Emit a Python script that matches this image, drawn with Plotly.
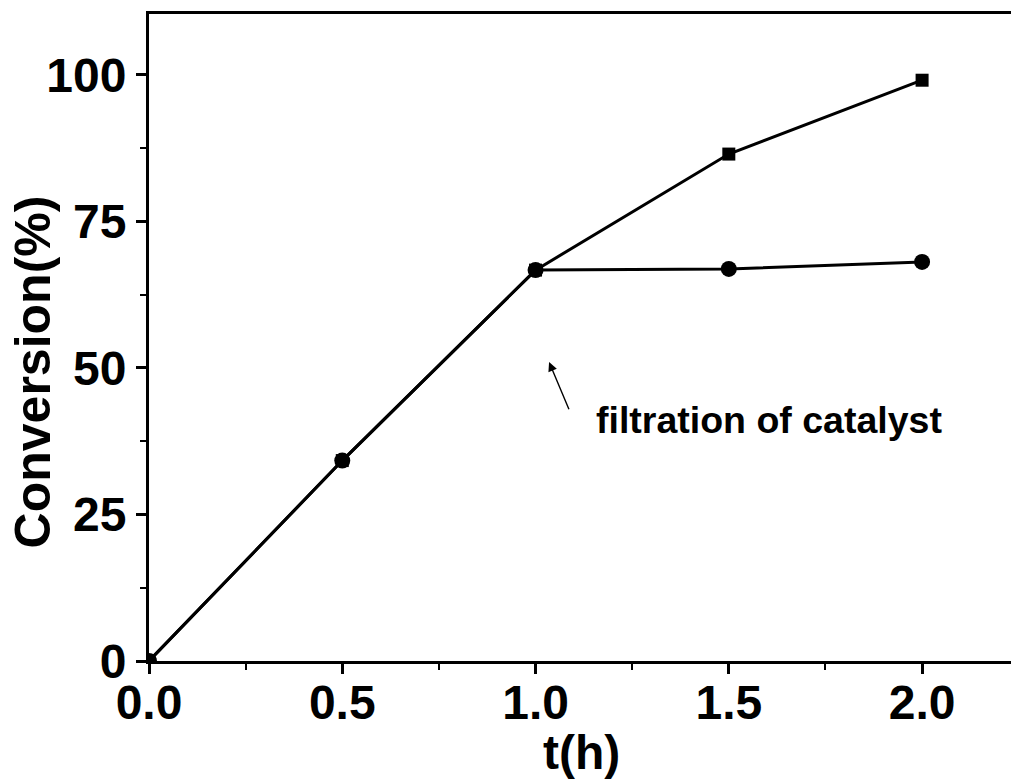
import plotly.graph_objects as go

# Reaction time (h) and conversion (%) with / without catalyst filtration
t_hours = [0.0, 0.5, 1.0, 1.5, 2.0]
conv_catalyst = [0.0, 34.2, 66.7, 86.5, 99.1]
conv_filtered = [0.0, 34.2, 66.7, 66.9, 68.1]

x_ticks = [0.0, 0.5, 1.0, 1.5, 2.0]
x_tick_text = ["0.0", "0.5", "1.0", "1.5", "2.0"]
y_ticks = [0, 25, 50, 75, 100]

FONT = "Liberation Sans, Arial, sans-serif"

fig = go.Figure()
fig.add_trace(go.Scatter(
    x=t_hours, y=conv_catalyst, mode="lines+markers",
    line=dict(color="black", width=3),
    marker=dict(symbol="square", size=13, color="black"),
    showlegend=False,
))
fig.add_trace(go.Scatter(
    x=t_hours, y=conv_filtered, mode="lines+markers",
    line=dict(color="black", width=3),
    marker=dict(symbol="circle", size=16, color="black"),
    showlegend=False,
))

# arrow pointing at the filtration moment
fig.add_annotation(
    x=1.035, y=51.0, ax=1.088, ay=42.7,
    xref="x", yref="y", axref="x", ayref="y",
    text="", showarrow=True, arrowhead=2, arrowsize=1.3,
    arrowwidth=1.4, arrowcolor="black",
)
fig.add_annotation(
    x=1.603, y=41.2, xref="x", yref="y",
    xanchor="center", yanchor="middle",
    text="<b>filtration of catalyst</b>", showarrow=False,
    font=dict(family=FONT, size=37.5, color="black"),
)

# axis titles
fig.add_annotation(
    x=0.502, y=-0.141, xref="paper", yref="paper",
    xanchor="center", yanchor="middle",
    text="<b>t(h)</b>", showarrow=False,
    font=dict(family=FONT, size=48, color="black"),
)
fig.add_annotation(
    x=-0.135, y=0.447, xref="paper", yref="paper",
    xanchor="center", yanchor="middle",
    text="<b>Conversion(%)</b>", showarrow=False, textangle=-90,
    font=dict(family=FONT, size=50, color="black"),
)

fig.update_layout(
    width=1011, height=780,
    margin=dict(l=149, r=0, t=14, b=119, autoexpand=False),
    paper_bgcolor="white", plot_bgcolor="white",
    font=dict(family=FONT, color="black"),
)
fig.update_xaxes(
    range=[0, 2.23], showgrid=False, zeroline=False,
    showline=True, linecolor="black", linewidth=3, mirror=True,
    tickmode="array", tickvals=x_ticks, ticktext=[f"<b>{s}</b>" for s in x_tick_text],
    ticks="outside", ticklen=10, tickwidth=3, tickcolor="black",
    ticklabelstandoff=-13,
    tickfont=dict(family=FONT, size=48, color="black"),
    minor=dict(dtick=0.25, ticks="outside", ticklen=6, tickwidth=2, tickcolor="black"),
)
fig.update_yaxes(
    range=[0, 110.4], showgrid=False, zeroline=False,
    showline=True, linecolor="black", linewidth=3, mirror=False,
    tickmode="array", tickvals=y_ticks, ticktext=[f"<b>{v}</b>" for v in y_ticks],
    ticks="outside", ticklen=10, tickwidth=3, tickcolor="black",
    tickfont=dict(family=FONT, size=48, color="black"),
    minor=dict(dtick=12.5, ticks="outside", ticklen=6, tickwidth=2, tickcolor="black"),
)

fig.write_html("out.html")
